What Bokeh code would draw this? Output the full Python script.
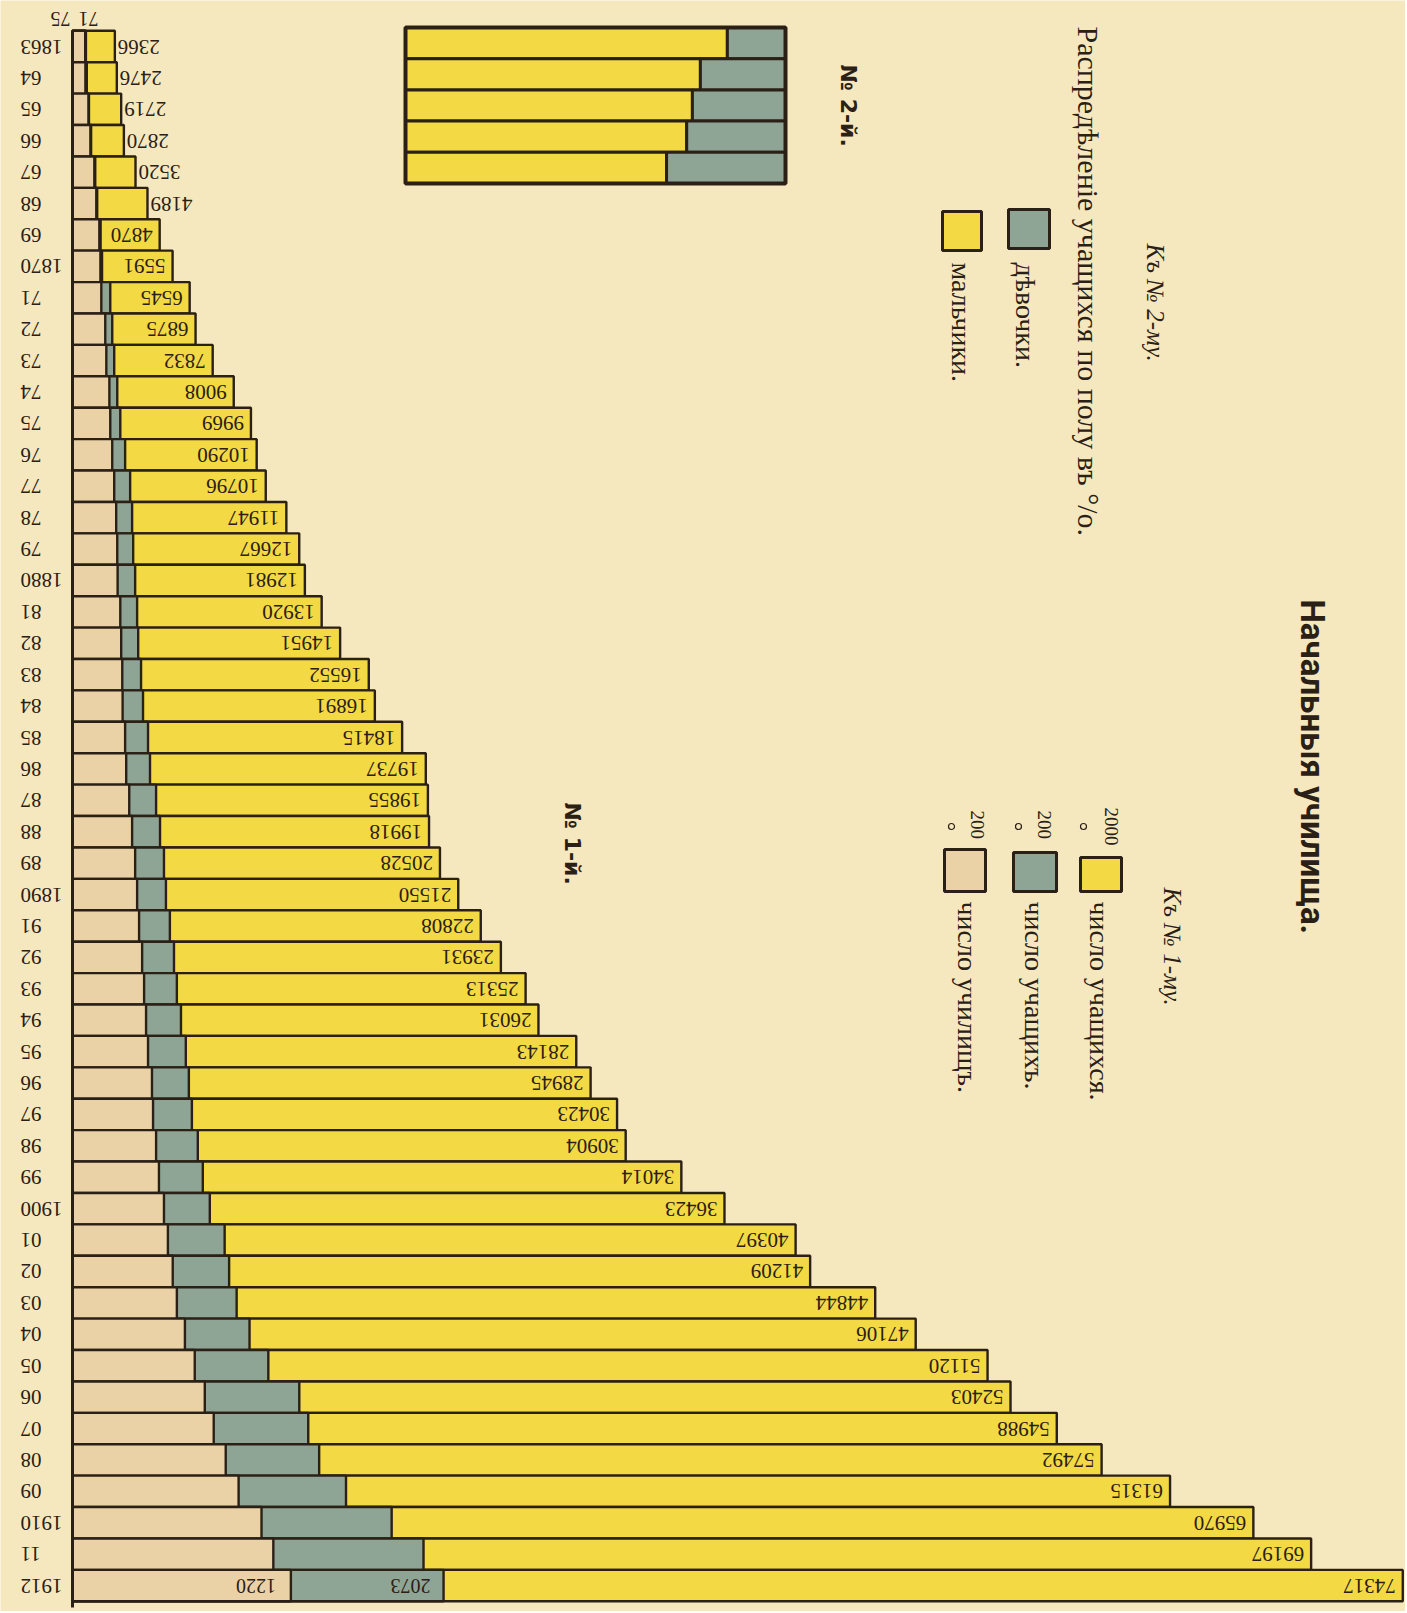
import math
from bokeh.plotting import figure
from bokeh.models import Range1d, ColumnDataSource
from bokeh.core.properties import value
from bokeh.embed import file_html
from bokeh.resources import INLINE

# ---------------- data ----------------
years = list(range(1863, 1913))
year_labels = ["1863", "64", "65", "66", "67", "68", "69", "1870", "71", "72",
               "73", "74", "75", "76", "77", "78", "79", "1880", "81", "82",
               "83", "84", "85", "86", "87", "88", "89", "1890", "91", "92",
               "93", "94", "95", "96", "97", "98", "99", "1900", "01", "02",
               "03", "04", "05", "06", "07", "08", "09", "1910", "11", "1912"]
# число учащихся (pupils)
students = [2366, 2476, 2719, 2870, 3520, 4189, 4870, 5591, 6545, 6875,
            7832, 9008, 9969, 10290, 10796, 11947, 12667, 12981, 13920, 14951,
            16552, 16891, 18415, 19737, 19855, 19918, 20528, 21550, 22808, 23931,
            25313, 26031, 28143, 28945, 30423, 30904, 34014, 36423, 40397, 41209,
            44844, 47106, 51120, 52403, 54988, 57492, 61315, 65970, 69197, 74317]
# число учащихъ (teachers)
teachers = [75, 80, 92, 104, 127, 138, 157, 165, 211, 222,
            233, 250, 267, 294, 322, 333, 339, 350, 361, 367,
            383, 394, 422, 433, 467, 489, 511, 522, 544, 567,
            583, 606, 633, 650, 667, 700, 728, 767, 850, 875,
            917, 989, 1094, 1267, 1317, 1378, 1528, 1783, 1961, 2073]
# число училищъ (schools)
schools = [71, 72, 89, 100, 122, 133, 150, 156, 161, 183,
           189, 206, 211, 222, 233, 244, 250, 252, 267, 272,
           278, 280, 294, 300, 317, 333, 350, 361, 372, 389,
           400, 411, 422, 444, 450, 467, 483, 511, 533, 560,
           583, 628, 683, 739, 789, 856, 928, 1056, 1122, 1220]
# № 2: distribution of pupils by sex, %
groups = [0, 1, 2, 3, 4]
boys_pct = [84.7, 77.6, 75.5, 74.0, 68.7]
girls_pct = [15.3, 22.4, 24.5, 26.0, 31.3]

STUDENTS_PER_UNIT = 2000
STAFF_PER_UNIT = 200

# ---------------- style ----------------
PAPER = "#F6E8BE"
YELLOW = "#F3D943"
GREEN = "#8EA494"
TAN = "#EBD2A6"
INK = "#2A2016"
SERIF = value("Liberation Serif")
TITLE_FONT = value("Roboto")
SANS = value("'DejaVu Sans', sans-serif")

W, H = 1405, 1611
PX_PER_UNIT = 35.8
BASE_PX = 72
ROW_PX = 31.41
FIRST_ROW_PX = 46

x_range = Range1d(-BASE_PX / PX_PER_UNIT, (W - BASE_PX) / PX_PER_UNIT)
y_top = years[0] - FIRST_ROW_PX / ROW_PX
y_range = Range1d(y_top + H / ROW_PX, y_top)

p = figure(width=W, height=H, x_range=x_range, y_range=y_range,
           output_backend="svg", toolbar_location=None,
           x_axis_type=None, y_axis_type=None, min_border=0,
           background_fill_color=PAPER, border_fill_color=PAPER,
           outline_line_color=None)

# pixel-layout ranges for annotations, and ranges for chart № 2
p.extra_x_ranges = {
    "px": Range1d(0, W),
    "pct": Range1d(-405 / 3.8, (W - 405) / 3.8),
}
p.extra_y_ranges = {
    "px": Range1d(H, 0),
    "grp": Range1d((H - 42.6) / 31.2, -42.6 / 31.2),
}

# ---------------- chart № 1 ----------------
src = ColumnDataSource(dict(
    year=years,
    top=[y - 0.5 for y in years],
    bottom=[y + 0.5 for y in years],
    s_end=[s / STUDENTS_PER_UNIT for s in students],
    t_end=[t / STAFF_PER_UNIT for t in teachers],
    c_end=[c / STAFF_PER_UNIT for c in schools],
))
p.quad(left=0, right="s_end", top="top", bottom="bottom", source=src,
       fill_color=YELLOW, line_color=INK, line_width=2.4)
p.quad(left=0, right="t_end", top="top", bottom="bottom", source=src,
       fill_color=GREEN, line_color=INK, line_width=2.4)
p.quad(left=0, right="c_end", top="top", bottom="bottom", source=src,
       fill_color=TAN, line_color=INK, line_width=2.4)
p.segment(x0=[0], y0=[years[0] - 0.5], x1=[0], y1=[years[-1] + 0.7],
          line_color=INK, line_width=3)

# year labels (upside down)
p.text(x=[-52 / PX_PER_UNIT] * len(years), y=years, text=year_labels,
       angle=math.pi, text_align="right", text_baseline="middle",
       text_font=SERIF, text_font_size="21px", text_color=INK)

# pupil numbers at bar ends
DIGIT_PX = 10.5
in_x, in_y, in_t, out_x, out_y, out_t = [], [], [], [], [], []
for y, s, t in zip(years, students, teachers):
    end = s / STUDENTS_PER_UNIT
    lab = str(s)
    lab_w = (len(lab) * DIGIT_PX + 10) / PX_PER_UNIT
    if end - t / STAFF_PER_UNIT > lab_w:
        in_x.append(end - 7 / PX_PER_UNIT); in_y.append(y); in_t.append(lab)
    else:
        out_x.append(end + 3 / PX_PER_UNIT); out_y.append(y); out_t.append(lab)
p.text(x=in_x, y=in_y, text=in_t, angle=math.pi, text_align="left",
       text_baseline="middle", text_font=SERIF, text_font_size="21px",
       text_color=INK)
p.text(x=out_x, y=out_y, text=out_t, angle=math.pi, text_align="right",
       text_baseline="middle", text_font=SERIF, text_font_size="21px",
       text_color=INK)

# schools / teachers numbers for first and last year
p.text(x=[schools[-1] / STAFF_PER_UNIT - 15 / PX_PER_UNIT,
          teachers[-1] / STAFF_PER_UNIT - 13 / PX_PER_UNIT],
       y=[years[-1], years[-1]], text=[str(schools[-1]), str(teachers[-1])],
       angle=math.pi, text_align="left", text_baseline="middle",
       text_font=SERIF, text_font_size="20px", text_color=INK)
p.text(x=[-12 / PX_PER_UNIT, 16 / PX_PER_UNIT],
       y=[years[0] - 0.86, years[0] - 0.86],
       text=[str(teachers[0]), str(schools[0])],
       angle=math.pi, text_align="center", text_baseline="middle",
       text_font=SERIF, text_font_size="20px", text_color=INK)

# ---------------- chart № 2 ----------------
src2 = ColumnDataSource(dict(
    g=groups,
    top=[g - 0.5 for g in groups],
    bottom=[g + 0.5 for g in groups],
    boys=boys_pct,
    girls_left=boys_pct,
    girls_right=[b + gl for b, gl in zip(boys_pct, girls_pct)],
))
p.quad(left=0, right="boys", top="top", bottom="bottom", source=src2,
       x_range_name="pct", y_range_name="grp",
       fill_color=YELLOW, line_color=INK, line_width=3)
p.quad(left="girls_left", right="girls_right", top="top", bottom="bottom",
       source=src2, x_range_name="pct", y_range_name="grp",
       fill_color=GREEN, line_color=INK, line_width=3)
p.quad(left=[0], right=[100], top=[groups[0] - 0.5], bottom=[groups[-1] + 0.5],
       x_range_name="pct", y_range_name="grp",
       fill_color=None, line_color=INK, line_width=4)

# ---------------- legends & titles (reference pixel layout) ----------------
p.quad(left=[1080, 1013, 944, 1008, 942], right=[1121, 1056, 985, 1049, 981],
       top=[857, 852, 849, 209, 211], bottom=[891, 891, 891, 248, 250],
       fill_color=[YELLOW, GREEN, TAN, GREEN, YELLOW], line_color=INK,
       line_width=3, x_range_name="px", y_range_name="px")
p.scatter(x=[1083, 1018, 951], y=[826, 826, 826], marker="circle", size=6,
          fill_color=None, line_color=INK, line_width=1.2,
          x_range_name="px", y_range_name="px")

ROT = -math.pi / 2
p.text(x=[1312], y=[599], text=["Начальныя училища."], angle=ROT,
       text_align="left", text_baseline="middle", text_font=TITLE_FONT,
       text_font_style="bold", text_font_size="33px", text_color=INK,
       x_range_name="px", y_range_name="px")
p.text(x=[1172, 1155], y=[887, 243], text=["Къ № 1-му.", "Къ № 2-му."],
       angle=ROT, text_align="left", text_baseline="middle", text_font=SERIF,
       text_font_style="italic", text_font_size="25px", text_color=INK,
       x_range_name="px", y_range_name="px")
p.text(x=[1111, 1044, 977], y=[807, 810, 810], text=["2000", "200", "200"],
       angle=ROT, text_align="left", text_baseline="middle", text_font=SERIF,
       text_font_size="19px", text_color=INK,
       x_range_name="px", y_range_name="px")
p.text(x=[1099, 1034, 967, 1025, 961], y=[901, 901, 901, 262, 262],
       text=["число учащихся.", "число учащихъ.", "число училищъ.",
             "дѣвочки.", "мальчики."],
       angle=ROT, text_align="left", text_baseline="middle", text_font=SERIF,
       text_font_size="28px", text_color=INK,
       x_range_name="px", y_range_name="px")
p.text(x=[1088], y=[26], text=["Распредѣленіе учащихся по полу въ °/o."],
       angle=ROT, text_align="left", text_baseline="middle", text_font=SERIF,
       text_font_size="30px", text_color=INK,
       x_range_name="px", y_range_name="px")
p.text(x=[572, 848], y=[802, 64], text=["№  1-й.", "№  2-й."],
       angle=ROT, text_align="left", text_baseline="middle", text_font=SANS,
       text_font_style="bold", text_font_size="22px", text_color=INK,
       x_range_name="px", y_range_name="px")

open("out.html", "w").write(file_html(p, INLINE))
